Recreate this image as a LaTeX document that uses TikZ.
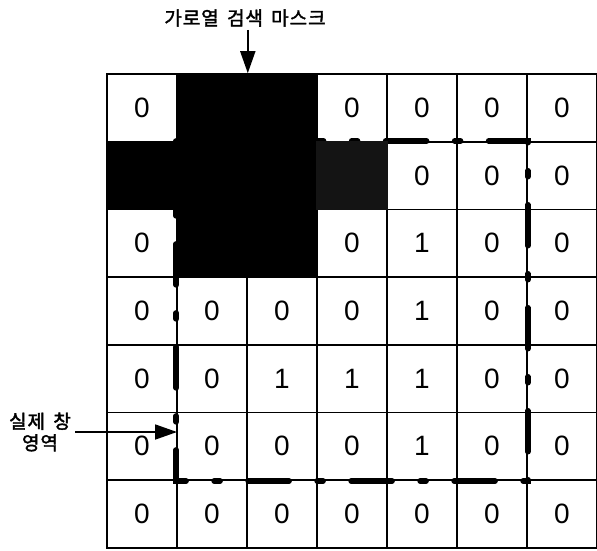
\documentclass[tikz,border=0pt]{standalone}
\usepackage{fontspec}
\setmainfont{Liberation Sans}
\newfontfamily\krfont[LetterSpace=5,FakeBold=2,WordSpace=1.6]{Noto Sans CJK KR}
\usetikzlibrary{arrows.meta}
\begin{document}
\begin{tikzpicture}[x=1pt,y=-1pt,
  cellbox/.style={draw=black,line width=1.6pt,minimum width=70pt,minimum height=67.7pt,inner sep=0pt,font=\fontsize{28}{28}\selectfont},
  lbl/.style={font=\krfont\fontsize{19}{21.5}\selectfont,inner sep=0pt,align=center},
  arr/.style={line width=1.8pt,-{Triangle[length=22pt,width=15pt]}},
  winline/.style={line width=5.5pt,line cap=round,dash pattern=on 41pt off 28pt on 6pt off 28pt},
  maskfill/.style={fill=black},
  stipfill/.style={fill=black!92}
]
\useasboundingbox (0,0) rectangle (597,550);
% grid cells
\foreach \r/\vals in {0/{0,{},{},0,0,0,0},1/{{},{},{},{},0,0,0},2/{0,{},{},0,1,0,0},3/{0,0,0,0,1,0,0},4/{0,0,1,1,1,0,0},5/{0,0,0,0,1,0,0},6/{0,0,0,0,0,0,0}}{
  \foreach \v [count=\c from 0] in \vals {
    \pgfmathsetmacro\cx{107+70*\c+35}
    \pgfmathsetmacro\cy{74+67.7*\r+33.85}
    \node[cellbox] (c-\r-\c) at (\cx,\cy) {\v};
  }
}
% actual window (dash-dot)
\draw[winline] (c-1-1.north west) rectangle (c-5-5.south east);
% search mask
\fill[maskfill] (c-0-1.north west) rectangle (c-2-2.south east);
\fill[maskfill] (c-1-0.north west) rectangle (c-1-0.south east);
\fill[stipfill] (c-1-3.north west) rectangle (c-1-3.south east);
% labels and arrows
\node[lbl] (mlbl) at (245,18) {가로열 검색 마스크};
\draw[arr,shorten <=3pt] (mlbl.south -| c-0-1.north east) -- (c-0-1.north east);
\node[lbl] (wlbl) at (40,432) {실제 창\\영역};
\coordinate (wtip) at (177,432);
\draw[arr,shorten <=4pt] (wlbl.east |- wtip) -- (wtip);
\end{tikzpicture}
\end{document}
